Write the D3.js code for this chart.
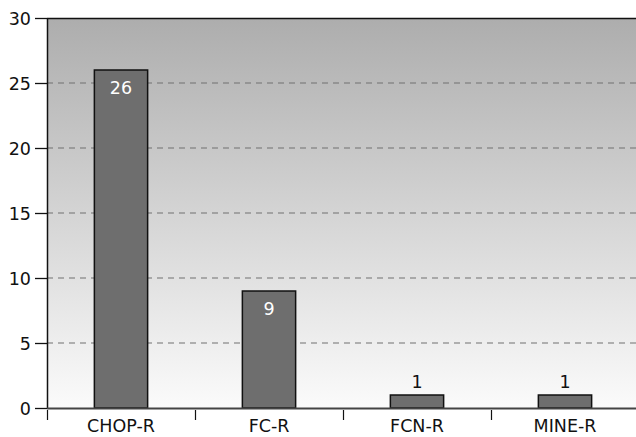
<!DOCTYPE html>
<html>
<head>
<meta charset="utf-8">
<script src="https://cdn.jsdelivr.net/npm/d3@7"></script>
<style>
  html, body { margin: 0; padding: 0; background: #fff; }
  svg text { font-family: "DejaVu Sans", Verdana, sans-serif; }
</style>
</head>
<body>
<svg id="chart" width="636" height="437"></svg>
<script>
// Regimen counts
const categories = ["CHOP-R", "FC-R", "FCN-R", "MINE-R"];
const values = [26, 9, 1, 1];
const yTicks = [0, 5, 10, 15, 20, 25, 30];

const W = 636, H = 437;
const margin = { top: 18, right: -3, bottom: 29, left: 47 };
const innerW = W - margin.left - margin.right;
const innerH = H - margin.top - margin.bottom;

const svg = d3.select("#chart");
const g = svg.append("g").attr("transform", `translate(${margin.left},${margin.top})`);

const x = d3.scaleBand().domain(categories).range([0, innerW]).paddingInner(0).paddingOuter(0);
const y = d3.scaleLinear().domain([0, 30]).range([innerH, 0]);

// Plot background: grey at the top fading to near white
const defs = svg.append("defs");
const grad = defs.append("linearGradient").attr("id", "bg").attr("x1", 0).attr("y1", 0).attr("x2", 0).attr("y2", 1);
grad.append("stop").attr("offset", "0%").attr("stop-color", "#adadad");
grad.append("stop").attr("offset", "100%").attr("stop-color", "#fbfbfb");

g.append("rect").attr("x", 0).attr("y", 0).attr("width", innerW).attr("height", innerH).attr("fill", "url(#bg)");

// Dashed gridlines
g.append("g").selectAll("line").data(yTicks.filter(d => d > 0 && d < 30)).join("line")
  .attr("x1", 0).attr("x2", innerW)
  .attr("y1", d => y(d)).attr("y2", d => y(d))
  .attr("stroke", "#707070").attr("stroke-width", 1.2).attr("stroke-dasharray", "6,5");

// Top border
g.append("line").attr("x1", 0).attr("x2", innerW).attr("y1", 0.5).attr("y2", 0.5)
  .attr("stroke", "#111").attr("stroke-width", 1.5);

// Bars
const barW = x.bandwidth() * 0.36;
g.append("g").selectAll("rect").data(categories).join("rect")
  .attr("x", (d) => x(d) + (x.bandwidth() - barW) / 2)
  .attr("y", (d, i) => y(values[i]))
  .attr("width", barW)
  .attr("height", (d, i) => innerH - y(values[i]))
  .attr("fill", "#6e6e6e").attr("stroke", "#111").attr("stroke-width", 1.5);

// Value labels: inside tall bars in white, above short bars in black
g.append("g").selectAll("text").data(categories).join("text")
  .attr("x", d => x(d) + x.bandwidth() / 2)
  .attr("y", (d, i) => innerH - y(values[i]) > 40 ? y(values[i]) + 24 : y(values[i]) - 7)
  .attr("text-anchor", "middle")
  .attr("font-size", "17.5px")
  .attr("fill", (d, i) => innerH - y(values[i]) > 40 ? "#fff" : "#111")
  .text((d, i) => values[i]);

// Y axis
const yAxis = g.append("g").call(d3.axisLeft(y).tickValues(yTicks).tickSize(12).tickPadding(4));
yAxis.select(".domain").attr("stroke", "#111").attr("stroke-width", 1.5).attr("d", `M0.5,${innerH}V0`);
yAxis.selectAll(".tick line").attr("stroke", "#111").attr("stroke-width", 1.3);
yAxis.selectAll(".tick text").attr("font-size", "17.5px").attr("fill", "#111").attr("dy", "0.35em")
  .attr("font-family", "DejaVu Sans, sans-serif");

// X axis with ticks at category boundaries
const xAxis = g.append("g").attr("transform", `translate(0,${innerH})`)
  .call(d3.axisBottom(x).tickSize(0).tickPadding(12));
xAxis.select(".domain").attr("stroke", "#444").attr("stroke-width", 2.2).attr("d", `M0,0.5H${innerW}`);
xAxis.selectAll(".tick text").attr("font-size", "17.5px").attr("fill", "#111")
  .attr("font-family", "DejaVu Sans, sans-serif");
xAxis.append("g").selectAll("line").data(categories).join("line")
  .attr("x1", d => Math.round(x(d)) + 0.5).attr("x2", d => Math.round(x(d)) + 0.5)
  .attr("y1", 2).attr("y2", 12)
  .attr("stroke", "#111").attr("stroke-width", 1.2);
</script>
</body>
</html>
